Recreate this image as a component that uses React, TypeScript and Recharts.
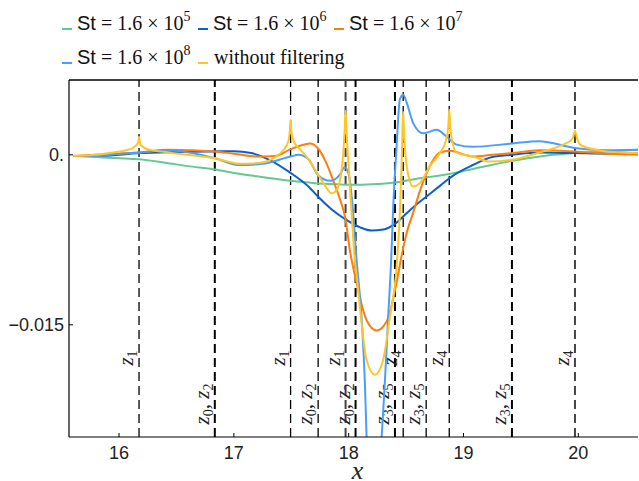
import React from 'react';
import { LineChart, Line, XAxis, YAxis, ReferenceLine, Legend } from 'recharts';

// ---------- data ----------
const xTicks = [16, 17, 18, 19, 20];
const yTicks = [0, -0.015];
const xDomain = [15.564, 20.52];
const yDomain = [-0.0249, 0.0066];

const seriesExponents = ['5', '6', '7', '8'];
const seriesColors = ['#62c993', '#0b5fc8', '#ff7d0a', '#4b9dfa', '#ffc526'];

// St = 1.6 x 10^5
const stE5: number[][] = [
  [15.6, -0.0001], [15.8, -0.0002], [16.0, -0.0003], [16.174, -0.0004], [16.4, -0.0007],
  [16.6, -0.001], [16.834, -0.0013], [17.0, -0.0016], [17.2, -0.0019], [17.494, -0.0023],
  [17.7, -0.0025], [17.9, -0.0026], [18.06, -0.00265], [18.2, -0.0026], [18.403, -0.00244],
  [18.6, -0.0021], [18.876, -0.0017], [19.1, -0.0012], [19.422, -0.00053], [19.7, -0.0001],
  [19.971, 0.00015], [20.25, 0.0003], [20.52, 0.00044],
];

// St = 1.6 x 10^6
const stE6: number[][] = [
  [15.6, -0.0001], [15.8, -0.0001], [16.0, 0.0], [16.174, 0.00015], [16.5, 0.00025],
  [16.834, 0.0003], [17.0, 0.00032], [17.15, 0.00015], [17.3, -0.0004], [17.494, -0.0016],
  [17.66, -0.0029], [17.734, -0.0037], [17.85, -0.0048], [17.973, -0.0057], [18.1, -0.0064],
  [18.2, -0.00668], [18.3, -0.0066], [18.403, -0.0061], [18.5, -0.0052], [18.6, -0.0043],
  [18.675, -0.0037], [18.8, -0.0027], [18.9, -0.0019], [19.082, -0.0009], [19.25, -0.0002],
  [19.422, 0.0], [19.66, 0.0002], [19.971, 0.00015], [20.25, 0.0001], [20.52, 0.0001],
];

// St = 1.6 x 10^7
const stE7: number[][] = [
  [15.6, -0.0001], [15.8, 0.0], [16.0, 0.0001], [16.174, 0.0002], [16.43, 0.00044],
  [16.834, 0.0003], [17.0, 0.0001], [17.2, -0.00015], [17.36, -0.0001], [17.494, 0.0005],
  [17.575, 0.0008], [17.662, 0.001], [17.73, 0.0006], [17.8, -0.0006], [17.863, -0.0022],
  [17.92, -0.0038], [17.973, -0.0057], [18.01, -0.0084], [18.069, -0.0113], [18.156, -0.0146],
  [18.243, -0.0155], [18.33, -0.0147], [18.417, -0.0113], [18.461, -0.0089], [18.51, -0.0067],
  [18.562, -0.0051], [18.62, -0.0032], [18.679, -0.0016], [18.74, -0.0004], [18.795, 0.0002],
  [18.882, 0.00035], [19.082, -0.00015], [19.25, 0.0], [19.422, 0.00015], [19.66, 0.0004],
  [19.971, 0.0003], [20.25, 0.0001], [20.52, 0.0],
];

// St = 1.6 x 10^8
const stE8: number[][] = [
  [15.6, -0.0001], [15.8, -0.0001], [16.0, 0.0001], [16.174, 0.0002], [16.43, 0.0004],
  [16.834, -0.0003], [17.05, -0.0009], [17.25, -0.0008], [17.494, -0.00015], [17.565, 0.0],
  [17.65, -0.0004], [17.734, -0.0018], [17.84, -0.0023], [17.92, -0.0018], [17.965, -0.0011],
  [18.0, -0.0017], [18.037, -0.0049], [18.069, -0.0093], [18.112, -0.0143], [18.141, -0.0201],
  [18.156, -0.0249], [18.22, -0.036], [18.287, -0.0249], [18.315, -0.0201], [18.344, -0.0143],
  [18.37, -0.0093], [18.388, -0.0046], [18.417, 0.0007], [18.446, 0.0049], [18.475, 0.0053],
  [18.505, 0.0046], [18.562, 0.0028], [18.649, 0.0019], [18.766, 0.0022], [18.853, 0.0016],
  [18.94, 0.0009], [19.082, 0.0007], [19.422, 0.001], [19.66, 0.0012], [19.971, 0.0006],
  [20.25, 0.0004], [20.52, 0.00044],
];

// without filtering
const unfiltered: number[][] = [
  [15.6, -0.0001], [15.8, 0.0], [15.95, 0.0002], [16.06, 0.0004], [16.12, 0.0006],
  [16.155, 0.0009], [16.168, 0.0012], [16.174, 0.0016], [16.18, 0.0012], [16.195, 0.0008],
  [16.25, 0.0005], [16.43, 0.0002], [16.6, 0.0], [16.834, -0.0003], [17.052, -0.0008],
  [17.23, -0.0007], [17.36, -0.0002], [17.43, 0.0004], [17.475, 0.0012], [17.488, 0.0022],
  [17.494, 0.0031], [17.5, 0.0022], [17.514, 0.0014], [17.545, 0.0008], [17.575, 0.0005],
  [17.65, -0.0004], [17.73, -0.0017], [17.8, -0.0028], [17.85, -0.0034], [17.895, -0.0031],
  [17.925, -0.0022], [17.952, 0.0], [17.966, 0.0024], [17.973, 0.0039], [17.98, 0.0024],
  [17.993, 0.0], [18.025, -0.0051], [18.054, -0.0093], [18.07, -0.0107], [18.112, -0.0148],
  [18.156, -0.0181], [18.228, -0.0194], [18.3, -0.0181], [18.359, -0.0143], [18.417, -0.0099],
  [18.446, -0.0051], [18.461, -0.0007], [18.469, 0.0022], [18.475, 0.0038], [18.481, 0.0022],
  [18.49, 0.0006], [18.51, -0.0013], [18.562, -0.0028], [18.62, -0.0025], [18.707, -0.001],
  [18.795, 0.00015], [18.845, 0.0012], [18.867, 0.0024], [18.876, 0.004], [18.885, 0.0024],
  [18.9, 0.0013], [18.94, 0.0002], [19.082, -0.00015], [19.23, -0.0006], [19.422, -0.00044],
  [19.66, 0.0002], [19.867, 0.0009], [19.95, 0.0014], [19.971, 0.0021], [19.99, 0.0014],
  [20.03, 0.0008], [20.248, 0.0003], [20.52, 0.00015],
];

const seriesData = [stE5, stE6, stE7, stE8, unfiltered];

const markerX = [16.174, 16.834, 17.494, 17.734, 17.973, 18.06, 18.403, 18.475, 18.675, 18.876, 19.422, 19.971];
const markerLabels = ['z1', 'z0,z2', 'z1', 'z0,z2', 'z1', 'z0,z2', 'z3,z5', 'z4', 'z3,z5', 'z4', 'z3,z5', 'z4'];
const markerHeavy = [false, true, false, false, true, true, true, false, false, false, true, true];
const markerGray = [false, false, false, false, true, false, false, false, false, false, false, true];

// ---------- helpers ----------
const toPoints = (pts: number[][]) => pts.map(([x, y]) => ({ x, y }));

const SERIF = '"Liberation Serif", "DejaVu Serif", serif';
const SANS = '"Liberation Sans", Arial, sans-serif';

const MarkerLabel = (props: any) => {
  const { viewBox, text } = props;
  const lx = viewBox ? viewBox.x : 0;
  const parts: string[] = text.split(',');
  const bx = lx - 6;
  const by = parts.length > 1 ? 404 : 358;
  const children: React.ReactNode[] = [];
  parts.forEach((p, i) => {
    if (i > 0) children.push(<tspan key={'c' + i} dy={-4} fontStyle="normal">{', '}</tspan>);
    children.push(<tspan key={'z' + i}>{p[0]}</tspan>);
    children.push(
      <tspan key={'s' + i} fontSize={14} fontStyle="normal" dy={4}>{p.slice(1)}</tspan>
    );
  });
  return (
    <text
      x={bx}
      y={by}
      transform={`rotate(-90 ${bx} ${by})`}
      textAnchor="middle"
      fontFamily={SERIF}
      fontStyle="italic"
      fontSize={21}
      fill="#222"
    >
      {children}
    </text>
  );
};

const legendPos = [
  { sx: 62, tx: 77, y: 30 },
  { sx: 198, tx: 213, y: 30 },
  { sx: 334, tx: 349, y: 30 },
  { sx: 62, tx: 77, y: 64 },
  { sx: 198, tx: 214, y: 64 },
];

const LegendContent = () => (
  <svg width={639} height={80} style={{ display: 'block' }}>
    {legendPos.map((p, i) => (
      <g key={i}>
        <line x1={p.sx} x2={p.sx + 10} y1={p.y - 1} y2={p.y - 1} stroke={seriesColors[i]} strokeWidth={2} />
        {i < 4 ? (
          <text x={p.tx} y={p.y} fontSize={20} fill="#111">
            <tspan fontFamily={SANS}>St</tspan>
            <tspan fontFamily={SERIF}>{' = 1.6 × 10'}</tspan>
            <tspan fontFamily={SERIF} fontSize={14} dy={-9}>{seriesExponents[i]}</tspan>
          </text>
        ) : (
          <text x={p.tx} y={p.y} fontSize={20} fill="#111" fontFamily={SERIF}>without filtering</text>
        )}
      </g>
    ))}
  </svg>
);

const XAxisLabel = (props: any) => {
  const vb = props.viewBox || { x: 69, y: 437, width: 569, height: 30 };
  return (
    <text
      x={vb.x + vb.width / 2 + 4}
      y={vb.y + 42}
      textAnchor="middle"
      fontFamily={SERIF}
      fontStyle="italic"
      fontSize={26}
      fill="#222"
    >
      x
    </text>
  );
};

const fmtY = (v: number) => (v === 0 ? '0.' : (v < 0 ? '−' : '') + String(Math.abs(v)));

export default function App() {
  return (
    <div style={{ position: 'absolute', left: 0, top: 0, width: 639, height: 481, background: '#fff' }}>
      <LineChart width={639} height={481} margin={{ top: 80, right: 1, bottom: 14, left: 0 }}>
        <XAxis
          dataKey="x"
          type="number"
          domain={xDomain}
          ticks={xTicks}
          allowDataOverflow
          height={30}
          tickSize={-4}
          tickMargin={13}
          tick={{ fontFamily: SANS, fontSize: 18, fill: '#222' }}
          axisLine={{ stroke: '#000', strokeWidth: 1.2 }}
          tickLine={{ stroke: '#000' }}
          label={<XAxisLabel />}
        />
        <YAxis
          type="number"
          domain={yDomain}
          ticks={yTicks}
          allowDataOverflow
          width={69}
          tickSize={-4}
          tickMargin={9}
          tickFormatter={fmtY}
          tick={{ fontFamily: SANS, fontSize: 18, fill: '#222' }}
          axisLine={{ stroke: '#000', strokeWidth: 1.2 }}
          tickLine={{ stroke: '#000' }}
        />
        <ReferenceLine y={yDomain[1]} stroke="#000" strokeWidth={1.5} ifOverflow="extendDomain" />
        {markerX.map((mx, i) => (
          <ReferenceLine
            key={'m' + i}
            x={mx}
            stroke={markerGray[i] ? '#444' : '#000'}
            strokeWidth={markerHeavy[i] ? 2 : 1.3}
            strokeDasharray="9 5"
            label={<MarkerLabel text={markerLabels[i]} />}
          />
        ))}
        {seriesData.map((d, i) => (
          <Line
            key={'s' + i}
            data={toPoints(d)}
            dataKey="y"
            type="monotone"
            stroke={seriesColors[i]}
            strokeWidth={2}
            dot={false}
            activeDot={false}
            isAnimationActive={false}
          />
        ))}
        <Legend
          content={<LegendContent />}
          layout="horizontal"
          verticalAlign="middle"
          align="center"
          wrapperStyle={{ top: 0, left: 0, width: 639, height: 80 }}
        />
      </LineChart>
    </div>
  );
}
